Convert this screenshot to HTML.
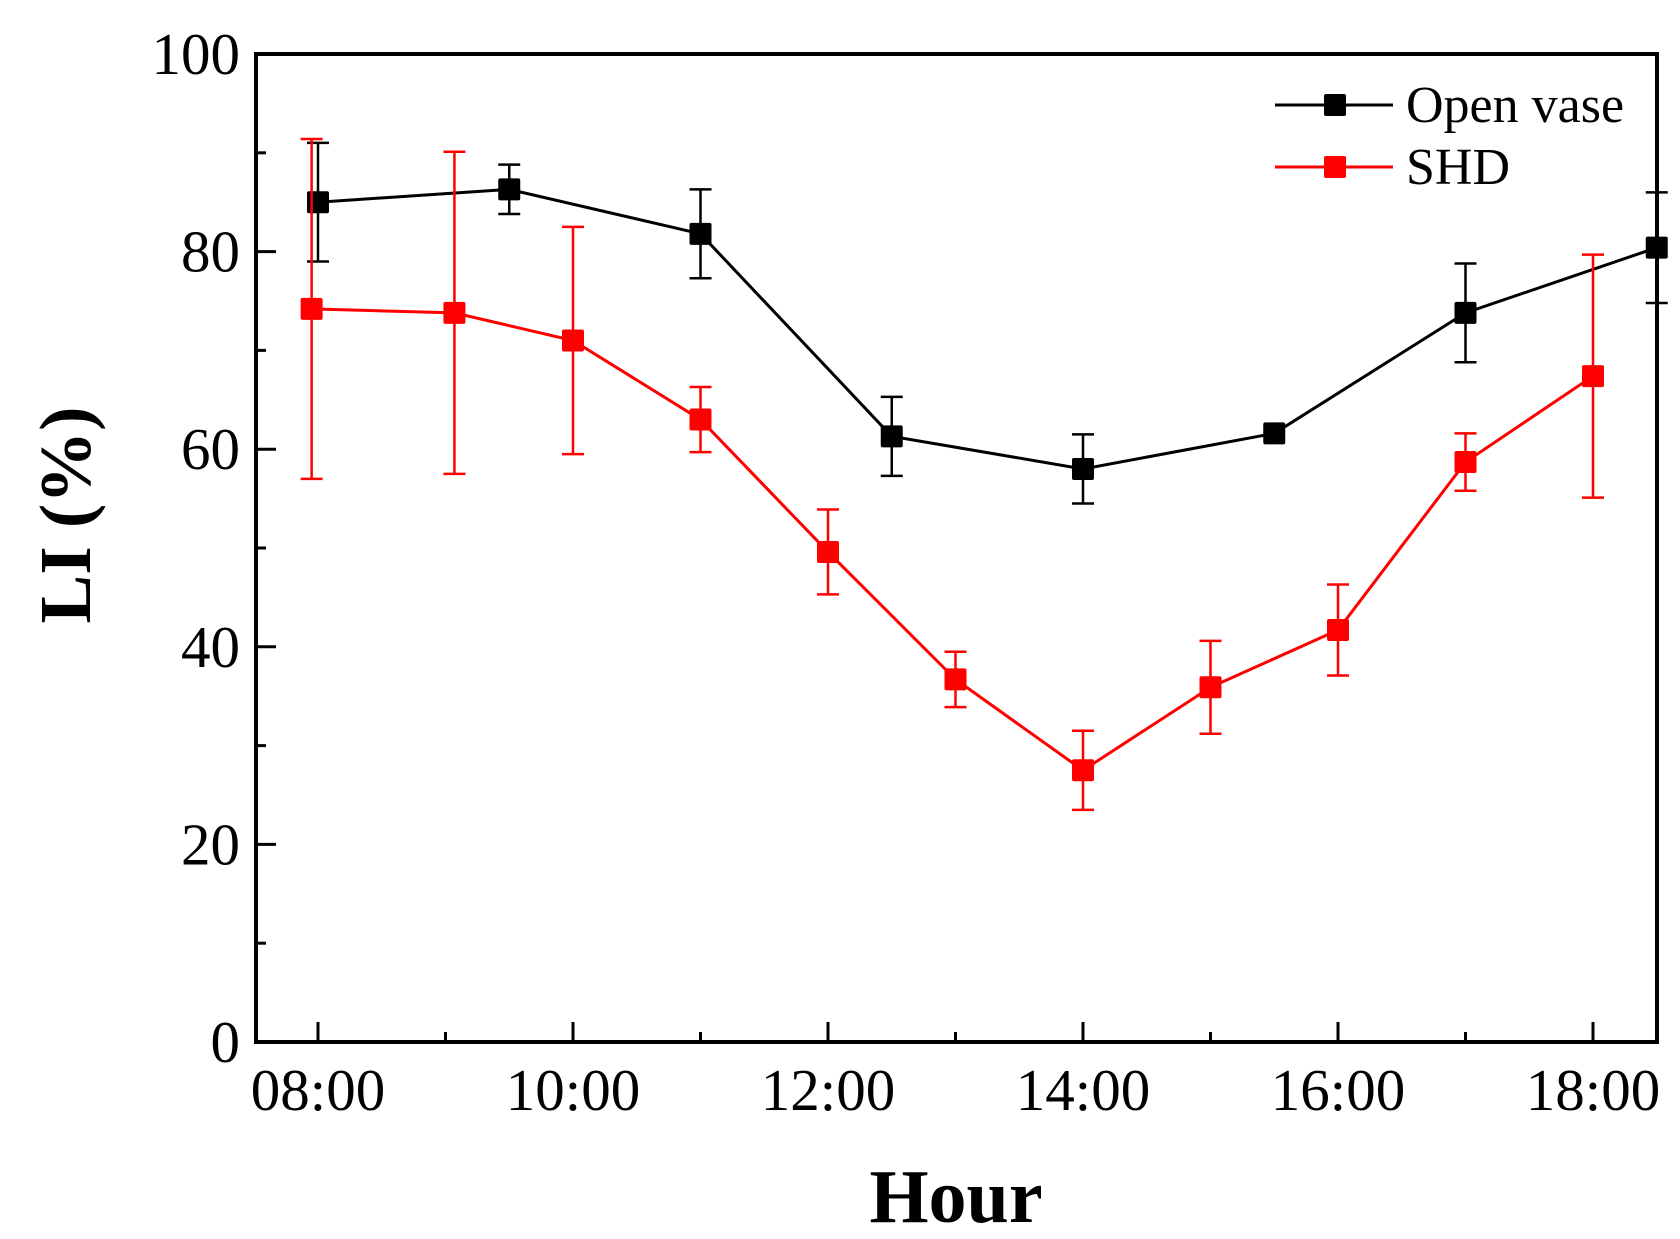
<!DOCTYPE html>
<html><head><meta charset="utf-8"><style>
html,body{margin:0;padding:0;background:#fff;}
svg{display:block;font-family:"Liberation Serif",serif;}
</style></head><body>
<svg id="chart" width="1680" height="1239" viewBox="0 0 1680 1239" xmlns="http://www.w3.org/2000/svg">
<g id="plot"></g>
</svg>
<script>
const blackX = [8, 9.5, 11, 12.5, 14, 15.5, 17, 18.5];
const blackY = [85, 86.3, 81.8, 61.3, 58, 61.6, 73.8, 80.4];
const blackErr = [6, 2.5, 4.5, 4, 3.5, 0, 5, 5.6];
const redX = [7.95, 9.07, 10, 11, 12, 13, 14, 15, 16, 17, 18];
const redY = [74.2, 73.8, 71, 63, 49.6, 36.7, 27.5, 35.9, 41.7, 58.7, 67.4];
const redErr = [17.2, 16.3, 11.5, 3.3, 4.3, 2.8, 4, 4.7, 4.6, 2.9, 12.3];
const yTicks = [0, 20, 40, 60, 80, 100];
const xTicks = [8, 10, 12, 14, 16, 18];
const xTickLabels = ["08:00", "10:00", "12:00", "14:00", "16:00", "18:00"];

const L = 256, R = 1657, T = 54, B = 1042;
const xs = h => 318 + (h - 8) * 127.5;
const ys = v => B - (v - 0) / 100 * (B - T);
const NS = "http://www.w3.org/2000/svg";
const g = document.getElementById('plot');
function mk(tag, attrs, parent) {
  const e = document.createElementNS(NS, tag);
  for (const k in attrs) e.setAttribute(k, attrs[k]);
  (parent || g).appendChild(e);
  return e;
}
for (let v = 10; v < 100; v += 20) {
  const t = mk('line', {x1: L, x2: L + 10, y1: ys(v), y2: ys(v), stroke: '#000', 'stroke-width': 3});
  
  
}
yTicks.forEach(v => {
  const t = mk('line', {x1: L, x2: L + 20, y1: ys(v), y2: ys(v), stroke: '#000', 'stroke-width': 3});
  
  
  const l = mk('text', {x: L - 16, y: ys(v) + 20, 'text-anchor': 'end', 'font-size': 59});
  l.textContent = v;
  
  
});
for (let h = 9; h <= 17; h += 2) {
  const t = mk('line', {x1: xs(h), x2: xs(h), y1: B, y2: B - 10, stroke: '#000', 'stroke-width': 3});
  
  
}
xTicks.forEach((h, i) => {
  const t = mk('line', {x1: xs(h), x2: xs(h), y1: B, y2: B - 20, stroke: '#000', 'stroke-width': 3});
  
  
  const l = mk('text', {x: xs(h), y: B + 68, 'text-anchor': 'middle', 'font-size': 59});
  l.textContent = xTickLabels[i];
  
  
});
function series(X, Y, E, color, name) {
  const pts = X.map((x, i) => xs(x) + ',' + ys(Y[i])).join(' ');
  const pl = mk('polyline', {points: pts, fill: 'none', stroke: color, 'stroke-width': 3});
  
  
  X.forEach((x, i) => {
    if (E[i] > 0) {
      const cx = xs(x), y1 = ys(Y[i] + E[i]), y2 = ys(Y[i] - E[i]);
      const eb = mk('path', {d: `M${cx},${y1}V${y2}M${cx - 11},${y1}H${cx + 11}M${cx - 11},${y2}H${cx + 11}`, stroke: color, 'stroke-width': 2.5, fill: 'none'});
      
      
    }
    const m = mk('rect', {x: xs(x) - 11, y: ys(Y[i]) - 11, width: 22, height: 22, rx: 2, fill: color});
    
    
  });
}
series(blackX, blackY, blackErr, '#000', 'open-vase');
series(redX, redY, redErr, '#f00', 'shd');
const fr = mk('rect', {x: L, y: T, width: R - L, height: B - T, fill: 'none', stroke: '#000', 'stroke-width': 4});


[['Open vase', '#000', 105, 'legend-open-vase'], ['SHD', '#f00', 167, 'legend-shd']].forEach(([t, c, y, n]) => {
  const lg = mk('g', {});
  
  
  mk('line', {x1: 1275, x2: 1393, y1: y, y2: y, stroke: c, 'stroke-width': 3}, lg);
  mk('rect', {x: 1324, y: y - 11, width: 22, height: 22, rx: 2, fill: c}, lg);
  const tx = mk('text', {x: 1406, y: y + 17, 'font-size': 52}, lg);
  tx.textContent = t;
});
const xt = mk('text', {x: 956, y: 1222, 'text-anchor': 'middle', 'font-size': 76, 'font-weight': 'bold'});
xt.textContent = 'Hour';


const yt = mk('text', {x: 0, y: 0, 'text-anchor': 'middle', 'font-size': 73, 'font-weight': 'bold', transform: 'translate(90,515) rotate(-90)'});
yt.textContent = 'LI (%)';


</script>
</body></html>
